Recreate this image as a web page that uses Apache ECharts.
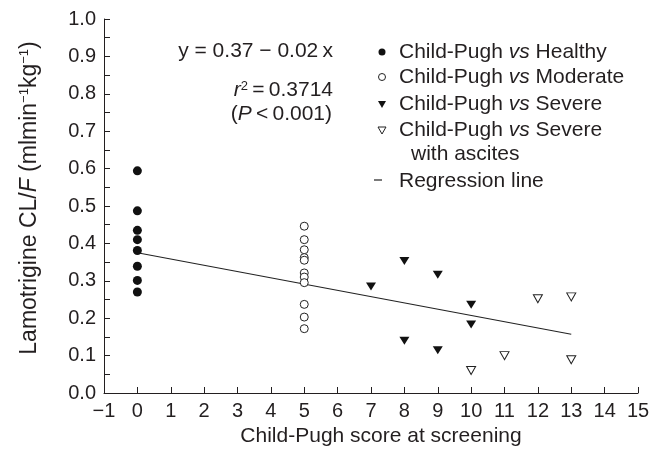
<!DOCTYPE html>
<html>
<head>
<meta charset="utf-8">
<script src="https://cdn.jsdelivr.net/npm/echarts@6/dist/echarts.min.js"></script>
<style>
  html, body { margin: 0; padding: 0; background: #fff; }
  #chart { width: 658px; height: 459px; }
</style>
</head>
<body>
<div id="chart"></div>
<script>
const FONT = '"Liberation Sans", Arial, Helvetica, sans-serif';
const INK = '#231f20';

// [Child-Pugh score, CL/F]
const healthy = [[0, 0.594], [0, 0.487], [0, 0.435], [0, 0.41], [0, 0.381], [0, 0.339], [0, 0.301], [0, 0.27]];
const moderate = [[5, 0.446], [5, 0.41], [5, 0.383], [5, 0.362], [5, 0.355], [5, 0.321], [5, 0.31], [5, 0.295], [5, 0.237], [5, 0.203], [5, 0.172]];
const severe = [[7, 0.285], [8, 0.353], [8, 0.14], [9, 0.316], [9, 0.114], [10, 0.236], [10, 0.183]];
const severeAscites = [[10, 0.06], [11, 0.1], [12, 0.252], [13, 0.257], [13, 0.089]];
const regression = [[0, 0.375], [13, 0.157]];

const legendLabels = [
  'Child-Pugh {i|vs} Healthy',
  'Child-Pugh {i|vs} Moderate',
  'Child-Pugh {i|vs} Severe',
  'Child-Pugh {i|vs} Severe',
  'with ascites',
  'Regression line'
];

const chart = echarts.init(document.getElementById('chart'));

const textEl = (x, y, text, size, align) => ({
  type: 'text',
  x: x,
  y: y,
  silent: true,
  style: {
    text: text,
    fontSize: size,
    fontFamily: FONT,
    fill: INK,
    align: align || 'left',
    verticalAlign: 'middle',
    rich: {
      i: { fontStyle: 'italic', fontSize: size, fontFamily: FONT, fill: INK },
      s: { fontSize: 13, fontFamily: FONT, fill: INK, verticalAlign: 'top' }
    }
  }
});

// legend, drawn by hand (two-line item)
const rowY = [52, 77, 104, 130, 154, 181];
const legendGraphics = [
  { type: 'circle', shape: { cx: 382, cy: rowY[0], r: 3.5 }, style: { fill: '#111' } },
  { type: 'circle', shape: { cx: 382, cy: rowY[1], r: 3.5 }, style: { fill: '#fff', stroke: '#222', lineWidth: 1 } },
  { type: 'polygon', shape: { points: [[378, rowY[2] - 3], [386, rowY[2] - 3], [382, rowY[2] + 4]] }, style: { fill: '#111' } },
  { type: 'polygon', shape: { points: [[378, rowY[3] - 3], [386, rowY[3] - 3], [382, rowY[3] + 4]] }, style: { fill: '#fff', stroke: '#222', lineWidth: 1 } },
  { type: 'line', shape: { x1: 374, y1: rowY[5] - 1, x2: 382, y2: rowY[5] - 1 }, style: { stroke: '#222', lineWidth: 1.2 } }
];
legendLabels.forEach((t, k) => {
  legendGraphics.push(textEl(k === 4 ? 411 : 399, rowY[k], t, 21));
});

const option = {
  animation: false,
  backgroundColor: '#fff',
  grid: {
    left: 104,
    right: 20,
    top: 19,
    bottom: 66,
    outerBoundsMode: 'none'
  },
  xAxis: {
    type: 'value',
    min: -1,
    max: 15,
    interval: 1,
    name: 'Child-Pugh score at screening',
    nameLocation: 'middle',
    nameGap: 33,
    nameTextStyle: { color: INK, fontSize: 21, fontFamily: FONT, padding: [0, 0, 0, 20] },
    axisLine: { onZero: false, lineStyle: { color: INK, width: 1 } },
    axisTick: { inside: true, length: 6, lineStyle: { color: INK } },
    axisLabel: {
      color: INK,
      fontSize: 20,
      fontFamily: FONT,
      margin: 8,
      formatter: v => (v < 0 ? '\u2212' + (-v) : String(v))
    },
    splitLine: { show: false }
  },
  yAxis: {
    type: 'value',
    min: 0,
    max: 1,
    interval: 0.05,
    name: 'Lamotrigine CL/{i|F} (mlmin{s|\u22121}kg{s|\u22121})',
    nameLocation: 'middle',
    nameRotate: 90,
    nameGap: 63,
    nameTextStyle: {
      color: INK,
      fontSize: 23,
      fontFamily: FONT,
      padding: [0, 0, 0, 16],
      rich: {
        i: { fontStyle: 'italic', fontSize: 23, fontFamily: FONT, color: INK },
        s: { fontSize: 13, fontFamily: FONT, color: INK, verticalAlign: 'top' }
      }
    },
    axisLine: { show: true, onZero: false, lineStyle: { color: INK, width: 1 } },
    axisTick: { show: true, inside: true, length: 6, lineStyle: { color: INK } },
    axisLabel: {
      color: INK,
      fontSize: 20,
      fontFamily: FONT,
      margin: 8,
      formatter: v => (Math.round(v * 100) % 10 === 0 ? v.toFixed(1) : '')
    },
    splitLine: { show: false }
  },
  series: [
    {
      name: 'Healthy',
      type: 'scatter',
      data: healthy,
      symbol: 'circle',
      symbolSize: 9,
      itemStyle: { color: '#111', opacity: 1 }
    },
    {
      name: 'Moderate',
      type: 'scatter',
      data: moderate,
      symbol: 'circle',
      symbolSize: 8,
      itemStyle: { color: '#fff', borderColor: '#222', borderWidth: 1, opacity: 1 }
    },
    {
      name: 'Severe',
      type: 'scatter',
      data: severe,
      symbol: 'triangle',
      symbolRotate: 180,
      symbolSize: [10, 8],
      itemStyle: { color: '#111', opacity: 1 }
    },
    {
      name: 'Severe with ascites',
      type: 'scatter',
      data: severeAscites,
      symbol: 'triangle',
      symbolRotate: 180,
      symbolSize: [9, 8],
      itemStyle: { color: '#fff', borderColor: '#222', borderWidth: 1, opacity: 1 }
    },
    {
      name: 'Regression line',
      type: 'line',
      data: regression,
      symbol: 'none',
      z: 1,
      lineStyle: { color: '#222', width: 1.2 }
    }
  ],
  graphic: [
    textEl(333, 51, 'y = 0.37 \u2212 0.02\u2009x', 21, 'right'),
    textEl(333, 90, '{i|r}{s|2}\u2009=\u20090.3714', 21, 'right'),
    textEl(332, 114, '({i|P}\u2009<\u20090.001)', 21, 'right')
  ].concat(legendGraphics)
};

chart.setOption(option);
</script>
</body>
</html>
